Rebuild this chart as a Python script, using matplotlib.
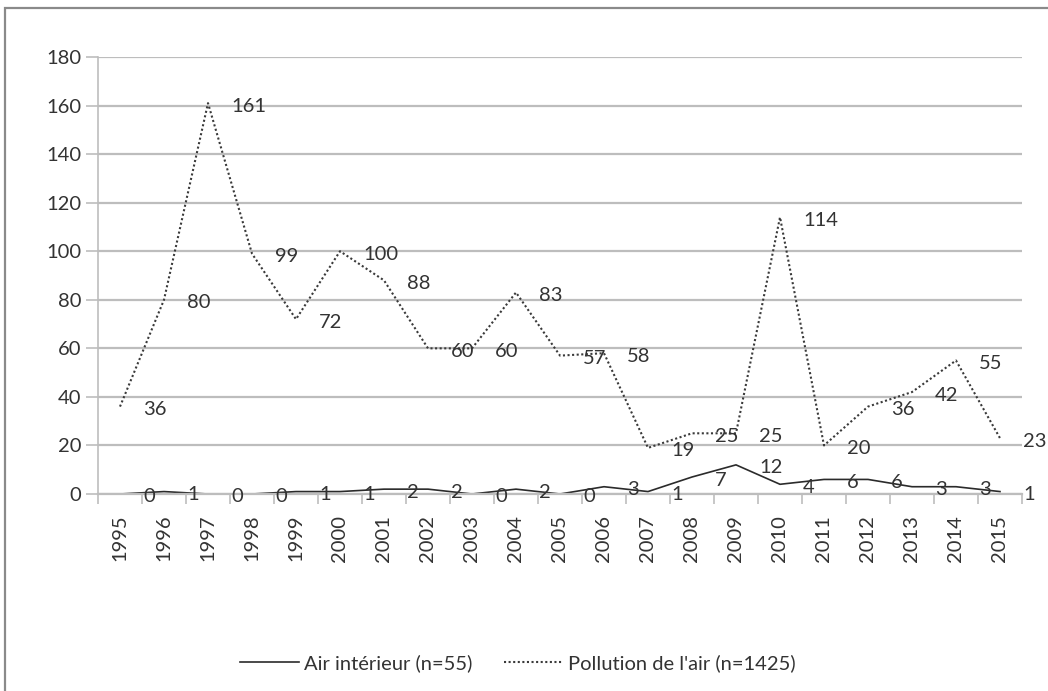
import matplotlib
matplotlib.use("Agg")
import matplotlib.pyplot as plt
from matplotlib.patches import Rectangle

years = [str(y) for y in range(1995, 2016)]
air_interieur = [0, 1, 0, 0, 1, 1, 2, 2, 0, 2, 0, 3, 1, 7, 12, 4, 6, 6, 3, 3, 1]
pollution_air = [36, 80, 161, 99, 72, 100, 88, 60, 60, 83, 57, 58, 19, 25, 25, 114, 20, 36, 42, 55, 23]
yticks = [0, 20, 40, 60, 80, 100, 120, 140, 160, 180]
label_air = "Air intérieur (n=55)"
label_pol = "Pollution de l'air (n=1425)"

plt.rcParams['font.family'] = ['Lato', 'DejaVu Sans']
txt = '#333333'
grid_c = '#bdbdbd'
fs = 14.5

fig = plt.figure(figsize=(10.48, 6.91), dpi=100)
fig.patch.set_facecolor('white')

# chart area border (cropped at right/bottom)
fig.patches.append(Rectangle((5 / 1048, -0.05), 1.2, 1 - 8 / 691 + 0.05,
                             transform=fig.transFigure, fill=False,
                             edgecolor='#8a8a8a', linewidth=1.6))

ax = fig.add_axes([98 / 1048, 1 - 494 / 691, 924 / 1048, 437 / 691])
x = list(range(len(years)))

ax.plot(x, air_interieur, color='#2b2b2b', linewidth=1.2, linestyle='-', label=label_air)
ax.plot(x, pollution_air, color='#3a3a3a', linewidth=1.5, linestyle=(0, (1, 1.2)), label=label_pol)

for xi, v in zip(x, air_interieur):
    ax.annotate(str(v), (xi, v), xytext=(23, -3), textcoords='offset pixels',
                ha='left', va='center', fontsize=fs, color=txt)
for xi, v in zip(x, pollution_air):
    ax.annotate(str(v), (xi, v), xytext=(23, -3), textcoords='offset pixels',
                ha='left', va='center', fontsize=fs, color=txt)

ax.set_xlim(-0.5, len(years) - 0.5)
ax.set_ylim(0, 180)
ax.set_yticks(yticks)
ax.set_yticklabels([str(t) for t in yticks], fontsize=fs, color=txt)
ax.yaxis.grid(True, color=grid_c, linewidth=1.6)
ax.set_axisbelow(True)

ax.set_xticks([i - 0.5 for i in range(len(years) + 1)])
ax.set_xticklabels([])
ax.set_xticks(x, minor=True)
ax.set_xticklabels(years, minor=True, rotation=90, fontsize=fs, color=txt)
ax.tick_params(axis='x', which='minor', length=0, pad=15)
ax.tick_params(axis='x', which='major', length=7, color=grid_c, width=1.2, direction='out')
ax.tick_params(axis='y', length=9, color=grid_c, width=1.2, direction='out', pad=3)

for s in ['top', 'right']:
    ax.spines[s].set_visible(False)
ax.spines['left'].set_color(grid_c)
ax.spines['left'].set_linewidth(1.2)
ax.spines['bottom'].set_color(grid_c)
ax.spines['bottom'].set_linewidth(1.6)

leg = fig.legend(loc='center', bbox_to_anchor=(518 / 1048, 1 - 663 / 691), ncol=2,
                 frameon=False, fontsize=fs, handlelength=2.9, columnspacing=1.6,
                 handletextpad=0.25)
for t in leg.get_texts():
    t.set_color(txt)

fig.savefig('out.png', dpi=100, facecolor='white')
